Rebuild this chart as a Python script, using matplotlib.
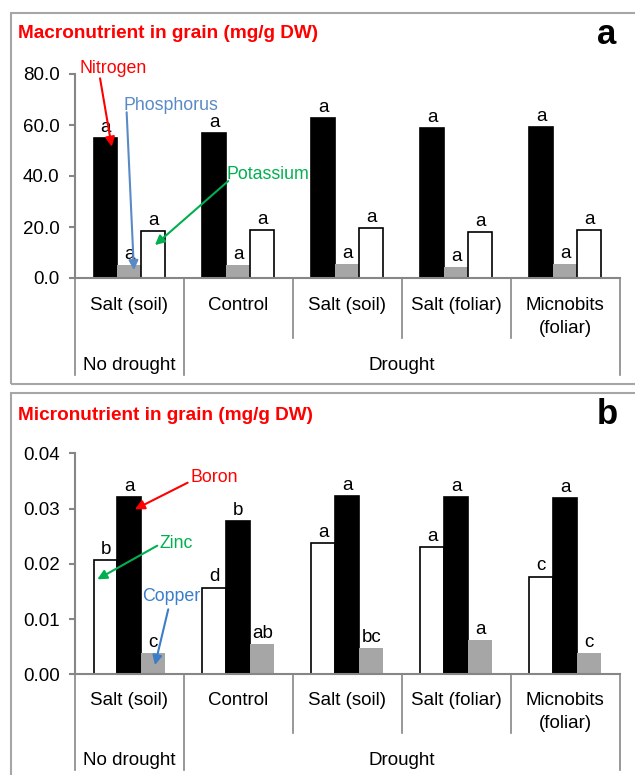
import matplotlib
matplotlib.use('Agg')
import matplotlib.pyplot as plt
from matplotlib.patches import Rectangle
import matplotlib.transforms as mtransforms

plt.rcParams['font.family'] = ['Liberation Sans', 'DejaVu Sans']

# ---------------- data ----------------
treatments = ['Salt (soil)', 'Control', 'Salt (soil)', 'Salt (foliar)', 'Micnobits\n(foliar)']
groups = ['No drought', 'Drought']
group_sizes = [1, 4]

nitrogen = [54.8, 56.7, 62.9, 58.9, 59.3]
phosphorus = [5.1, 5.1, 5.3, 4.4, 5.3]
potassium = [18.4, 18.7, 19.5, 17.9, 18.8]
nitrogen_letters = ['a', 'a', 'a', 'a', 'a']
phosphorus_letters = ['a', 'a', 'a', 'a', 'a']
potassium_letters = ['a', 'a', 'a', 'a', 'a']
macro_ticks = [0, 20, 40, 60, 80]

zinc = [0.0206, 0.0157, 0.0238, 0.0231, 0.0177]
boron = [0.0321, 0.0277, 0.0323, 0.0321, 0.0319]
copper = [0.0039, 0.0054, 0.0048, 0.0062, 0.0039]
zinc_letters = ['b', 'd', 'a', 'a', 'c']
boron_letters = ['a', 'b', 'a', 'a', 'a']
copper_letters = ['c', 'ab', 'bc', 'a', 'c']
micro_ticks = [0.00, 0.01, 0.02, 0.03, 0.04]

# ---------------- layout ----------------
W, H = 635, 775
fig = plt.figure(figsize=(W / 100, H / 100), dpi=100)

def fx(px):
    return px / W

def fy(py):
    return 1 - py / H

GRAY_BAR = '#A6A6A6'
SPINE = '#868686'
FS = 13.5
BW = 0.22
LINE_STEP = 23  # px between lines of a two-line category label

def panel(top_px, bottom_px, ymax, ticks, fmt, series, title, title_y, letter,
          inner_depth, outer_depth, lab_base, grp_base, annots):
    left_px, right_px = 75, 619.7
    ax = fig.add_axes([fx(left_px), fy(bottom_px), (right_px - left_px) / W,
                       (bottom_px - top_px) / H])
    ax_h = bottom_px - top_px
    n = len(treatments)
    xs = list(range(n))
    offsets = [-BW, 0, BW]
    for (vals, letters, fc, ec), off in zip(series, offsets):
        ax.bar([x + off for x in xs], vals, width=BW, color=fc, edgecolor=ec,
               linewidth=1.2 if ec != 'none' else 0)
        for x, v, l in zip(xs, vals, letters):
            ax.annotate(l, (x + off, v), xytext=(0, 1.5), textcoords='offset points',
                        ha='center', va='bottom', fontsize=FS, annotation_clip=False)
    ax.set_xlim(-0.5, n - 0.5)
    ax.set_ylim(0, ymax)
    ax.set_yticks(ticks)
    ax.set_yticklabels([fmt % t for t in ticks], fontsize=FS)
    ax.set_xticks([])
    for s in ['top', 'right']:
        ax.spines[s].set_visible(False)
    for s in ['left', 'bottom']:
        ax.spines[s].set_color(SPINE)
        ax.spines[s].set_linewidth(1.5)
    ax.tick_params(axis='y', length=4.5, width=1.5, color=SPINE, pad=6.5)

    trans = mtransforms.blended_transform_factory(ax.transData, ax.transAxes)
    # separators below the axis
    bounds = [b - 0.5 for b in range(n + 1)]
    grp_edges = [-0.5]
    acc = -0.5
    for g in group_sizes:
        acc += g
        grp_edges.append(acc)
    for b in bounds:
        depth = outer_depth if any(abs(b - e) < 1e-9 for e in grp_edges) else inner_depth
        ax.plot([b, b], [0, -depth / ax_h], color=SPINE, lw=1.2,
                transform=trans, clip_on=False)
    for x, lab in zip(xs, treatments):
        lines = lab.split('\n')
        for k, line in enumerate(lines):
            base = lab_base + k * LINE_STEP
            ax.text(x, -(base - bottom_px) / ax_h, line, ha='center', va='baseline',
                    fontsize=FS, transform=trans)
    start = 0
    for g, size in zip(groups, group_sizes):
        c = start + (size - 1) / 2
        ax.text(c, -(grp_base - bottom_px) / ax_h, g, ha='center', va='baseline',
                fontsize=FS, transform=trans)
        start += size

    for (txt, color, tpos, tail, head) in annots:
        ax.text(tpos[0], tpos[1], txt, color=color, fontsize=12.8, ha='left',
                va='center', clip_on=False)
        ax.annotate('', xy=head, xytext=tail,
                    arrowprops=dict(arrowstyle='-|>', color=color, lw=1.5,
                                    mutation_scale=14, shrinkA=0, shrinkB=0),
                    annotation_clip=False)

    fig.text(fx(18), fy(title_y), title, color='#FF0000', fontsize=13.7,
             fontweight='bold', ha='left', va='center')
    fig.text(fx(607), fy(title_y), letter, color='black', fontsize=25,
             fontweight='bold', ha='center', va='center')
    return ax

# frames
fig.patches.append(Rectangle((fx(11), fy(384)), fx(660) - fx(11), (384 - 13) / H,
                             transform=fig.transFigure, fill=False,
                             edgecolor='#A6A6A6', lw=1.5))
fig.patches.append(Rectangle((fx(11), fy(800)), fx(660) - fx(11), (800 - 393) / H,
                             transform=fig.transFigure, fill=False,
                             edgecolor='#A6A6A6', lw=1.5))

macro_series = [
    (nitrogen, nitrogen_letters, 'black', 'black'),
    (phosphorus, phosphorus_letters, GRAY_BAR, 'none'),
    (potassium, potassium_letters, 'white', 'black'),
]
macro_annots = [
    ('Nitrogen', '#FF0000', (-0.463, 82.0), (-0.27, 78.3), (-0.163, 51.5)),
    ('Phosphorus', '#5A8AC6', (-0.057, 67.8), (-0.026, 65.0), (0.041, 3.1)),
    ('Potassium', '#00B050', (0.892, 40.7), (0.906, 38.0), (0.234, 12.9)),
]
panel(74, 278, 80, macro_ticks, '%.1f', macro_series,
      'Macronutrient in grain (mg/g DW)', 34, 'a',
      60, 97, 310, 370, macro_annots)

micro_series = [
    (zinc, zinc_letters, 'white', 'black'),
    (boron, boron_letters, 'black', 'black'),
    (copper, copper_letters, GRAY_BAR, 'none'),
]
micro_annots = [
    ('Boron', '#FF0000', (0.564, 0.03566), (0.534, 0.03468), (0.050, 0.02986)),
    ('Zinc', '#00B050', (0.28, 0.02371), (0.255, 0.02328), (-0.295, 0.01719)),
    ('Copper', '#3A7DC9', (0.112, 0.01405), (0.356, 0.01176), (0.234, 0.00168)),
]
panel(453.3, 674.3, 0.04, micro_ticks, '%.2f', micro_series,
      'Micronutrient in grain (mg/g DW)', 415, 'b',
      59, 96, 705, 765, micro_annots)

fig.savefig('out.png', dpi=100)
